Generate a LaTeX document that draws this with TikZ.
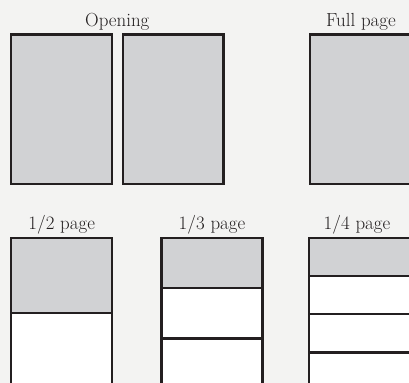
\documentclass[tikz,border=0pt]{standalone}
\usepackage{fontspec}
\usetikzlibrary{positioning}
\definecolor{paper}{RGB}{243,243,242}
\definecolor{pagegray}{RGB}{209,210,212}
\definecolor{rule}{RGB}{35,31,32}
\begin{document}
\begin{tikzpicture}[x=1bp,y=-1bp,
pg/.style={draw=rule,line width=2.3bp,fill=pagegray,inner sep=0pt,outer sep=0pt,minimum width=100.7bp},
blank/.style={pg,fill=white},
lbl/.style={anchor=base,inner sep=0pt,text=rule,font=\fontsize{19}{22}\selectfont}]
\fill[paper] (0,0) rectangle (409,383);
\clip (0,0) rectangle (409,383);
% top row
\node[pg,minimum height=149.5bp] (openL) at (61.7,109.2) {};
\node[pg,minimum height=149.5bp] (openR) at (173.2,109.2) {};
\node[pg,minimum height=149.5bp] (full) at (360.4,109.2) {};
\node[lbl] (openlbl) at (117.3,26) {Opening};
\node[lbl] (fulllbl) at (361,26) {Full page};
% bottom row
\node[pg,minimum height=75bp] (half) at (61.7,275.3) {};
\node[blank,minimum height=75bp,below=0pt of half] (halfA) {};
\node[pg,minimum height=50.3bp] (third) at (212,263) {};
\node[blank,minimum height=50.3bp,below=0pt of third] (thirdA) {};
\node[blank,minimum height=50.3bp,below=0pt of thirdA] (thirdB) {};
\node[pg,minimum height=38.2bp] (quart) at (359.4,256.9) {};
\node[blank,minimum height=38.2bp,below=0pt of quart] (quartA) {};
\node[blank,minimum height=38.2bp,below=0pt of quartA] (quartB) {};
\node[blank,minimum height=38.2bp,below=0pt of quartB] (quartC) {};
\node[lbl] (halflbl) at (61.7,229) {1/2 page};
\node[lbl] (thirdlbl) at (212,229) {1/3 page};
\node[lbl] (quartlbl) at (357,229) {1/4 page};
\end{tikzpicture}
\end{document}
